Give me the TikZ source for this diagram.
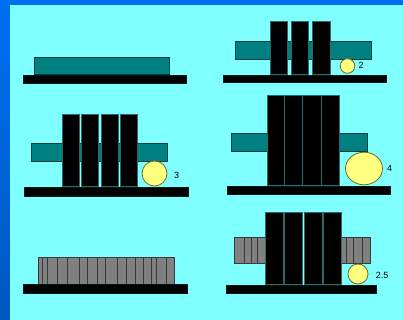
\documentclass[tikz,border=0pt]{standalone}
\usepackage{fontspec}
\setmainfont{Liberation Sans}
\begin{document}
\begin{tikzpicture}[x=1pt,y=-1pt,
  tealbar/.style={fill=tealc,draw=tealdark,line width=0.8pt},
  plate/.style={fill=black,draw=platedge,line width=0.7pt},
  basebar/.style={fill=black,draw=black!80!teal,line width=0.5pt},
  roller/.style={fill=yel,draw=rolledge,line width=0.8pt},
  graybar/.style={fill=grayc,draw=graydark,line width=0.8pt},
  stripe/.style={draw=graydark,line width=0.9pt},
  lbl/.style={font=\fontsize{9}{10}\selectfont,inner sep=0pt}]
\definecolor{bg}{HTML}{80FFFF}
\definecolor{bluetop}{HTML}{0070F0}
\definecolor{bluebot}{HTML}{0058C0}
\definecolor{tealc}{HTML}{008080}
\definecolor{tealdark}{HTML}{0A3A3A}
\definecolor{platedge}{HTML}{2A6A6A}
\definecolor{yel}{HTML}{FFFF80}
\definecolor{rolledge}{HTML}{6A6A30}
\definecolor{grayc}{HTML}{808080}
\definecolor{graydark}{HTML}{383838}
\useasboundingbox (0,0) rectangle (403,320);
% background
\fill[bluetop] (0,0) rectangle (403,320);
\shade[top color=bluetop,bottom color=bluebot] (0,5) rectangle (10,320);
\fill[bg] (10,5) rectangle (403,320);

% ---- panel 1
\draw[tealbar] (34,57) rectangle (169,74);
\draw[basebar] (23,75) rectangle (186,83);

% ---- panel 2
\draw[tealbar] (235,41) rectangle (371,59);
\foreach \a/\b in {270/287,291/308,312/330}
  \draw[plate] (\a,21) rectangle (\b,74);
\draw[basebar] (223,75) rectangle (386,82);
\draw[roller] (347.5,66) circle[radius=7.3];
\node[lbl] (l2) at (361,65) {2};

% ---- panel 3
\draw[tealbar] (31,143) rectangle (167,161);
\foreach \a/\b in {62/79,81/98,101/118,120/137}
  \draw[plate] (\a,114) rectangle (\b,186);
\draw[basebar] (24,187) rectangle (188,196);
\draw[roller] (154.5,173.5) circle[radius=12.5];
\node[lbl] (l3) at (176.5,175) {3};

% ---- panel 4
\draw[tealbar] (231,133) rectangle (367,151);
\foreach \a/\b in {267/284.5,284.5/302.5,302.5/321.5,321.5/339}
  \draw[plate] (\a,95) rectangle (\b,185);
\draw[basebar] (227,186) rectangle (390,194);
\draw[roller] (364,168.5) ellipse[x radius=18.5,y radius=16.3];
\node[lbl] (l4) at (389.5,168) {4};

% ---- panel 5
\draw[graybar] (38,257) rectangle (174,284);
\foreach \x in {42.5,47.5,57.5,67,79.5,87.5,97,105,117.5,126,135.5,143.5,151,156.5,166.5}
  \draw[stripe] (\x,257) -- (\x,284);
\draw[basebar] (23,284.5) rectangle (187,293);

% ---- panel 6
\draw[graybar] (234,237) rectangle (266,263);
\draw[graybar] (340,237) rectangle (370,263);
\foreach \x in {244.5,251,257.5,346,353.5,362}
  \draw[stripe] (\x,237) -- (\x,263);
\foreach \a/\b in {265/283.5,284/302.5,304/322.5,323/341}
  \draw[plate] (\a,212) rectangle (\b,284);
\draw[roller] (358,274) circle[radius=10];
\draw[basebar] (226,285) rectangle (376,293);
\node[lbl] (l25) at (382,275) {2.5};
\end{tikzpicture}
\end{document}
